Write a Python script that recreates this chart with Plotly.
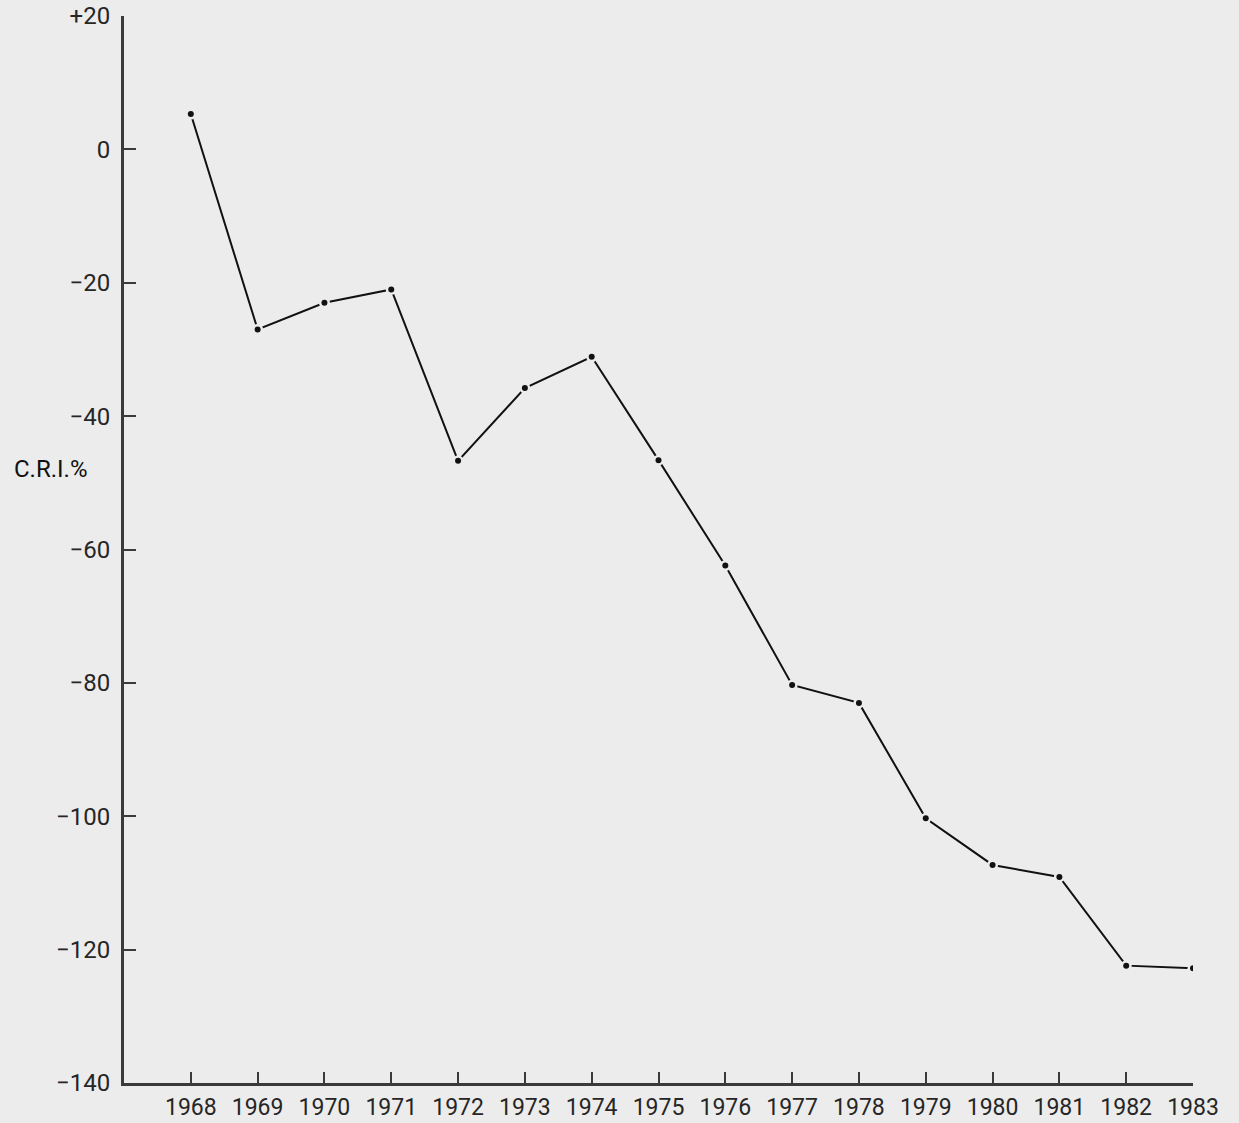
import plotly.graph_objects as go

# C.R.I. percentage by year
years = [1968, 1969, 1970, 1971, 1972, 1973, 1974, 1975,
         1976, 1977, 1978, 1979, 1980, 1981, 1982, 1983]
cri = [5.3, -27.0, -23.0, -21.0, -46.7, -35.8, -31.1, -46.6,
       -62.4, -80.3, -83.0, -100.3, -107.3, -109.1, -122.4, -122.8]

y_tick_vals = [20, 0, -20, -40, -60, -80, -100, -120, -140]
y_tick_text = ["+20", "0", "−20", "−40", "−60", "−80", "−100", "−120", "−140"]
x_tick_text = [str(y) for y in years]

BG = "#ececec"
INK = "#262626"
FONT = "Roboto, sans-serif"

fig = go.Figure()

# the connecting line
fig.add_trace(go.Scatter(
    x=years, y=cri, mode="lines",
    line=dict(color="#111111", width=2),
    hoverinfo="skip", showlegend=False,
))
# small clearings around each point, then the dots themselves
fig.add_trace(go.Scatter(
    x=years, y=cri, mode="markers",
    marker=dict(size=11, color=BG, line=dict(width=0)),
    hoverinfo="skip", showlegend=False,
))
fig.add_trace(go.Scatter(
    x=years, y=cri, mode="markers",
    marker=dict(size=6, color="#111111", line=dict(width=0)),
    showlegend=False,
))

fig.update_layout(
    width=1239, height=1123,
    margin=dict(l=124, r=46, t=16, b=40, autoexpand=False),
    paper_bgcolor=BG, plot_bgcolor=BG,
    font=dict(family=FONT, size=23, color=INK),
    xaxis=dict(
        range=[1967.0, 1983.0],
        tickvals=years, ticktext=x_tick_text,
        showline=True, linecolor="#3a3a3a", linewidth=2.5,
        ticks="inside", ticklen=11, tickwidth=2, tickcolor="#3a3a3a",
        showgrid=False, zeroline=False, automargin=False,
        ticklabelstandoff=2,
        tickfont=dict(family=FONT, size=23, color=INK),
    ),
    yaxis=dict(
        range=[-140, 20],
        tickvals=y_tick_vals, ticktext=y_tick_text,
        showline=True, linecolor="#3a3a3a", linewidth=3,
        ticks="inside", ticklen=12, tickwidth=2, tickcolor="#3a3a3a",
        showgrid=False, zeroline=False, automargin=False,
        ticklabelstandoff=6,
        tickfont=dict(family=FONT, size=24, color=INK),
    ),
    annotations=[dict(
        text="C.R.I.%", xref="paper", yref="y",
        x=-0.105, y=-48, xanchor="left", yanchor="middle",
        showarrow=False,
        font=dict(family=FONT, size=24, color="#111111"),
    )],
)

fig.write_html("out.html")
